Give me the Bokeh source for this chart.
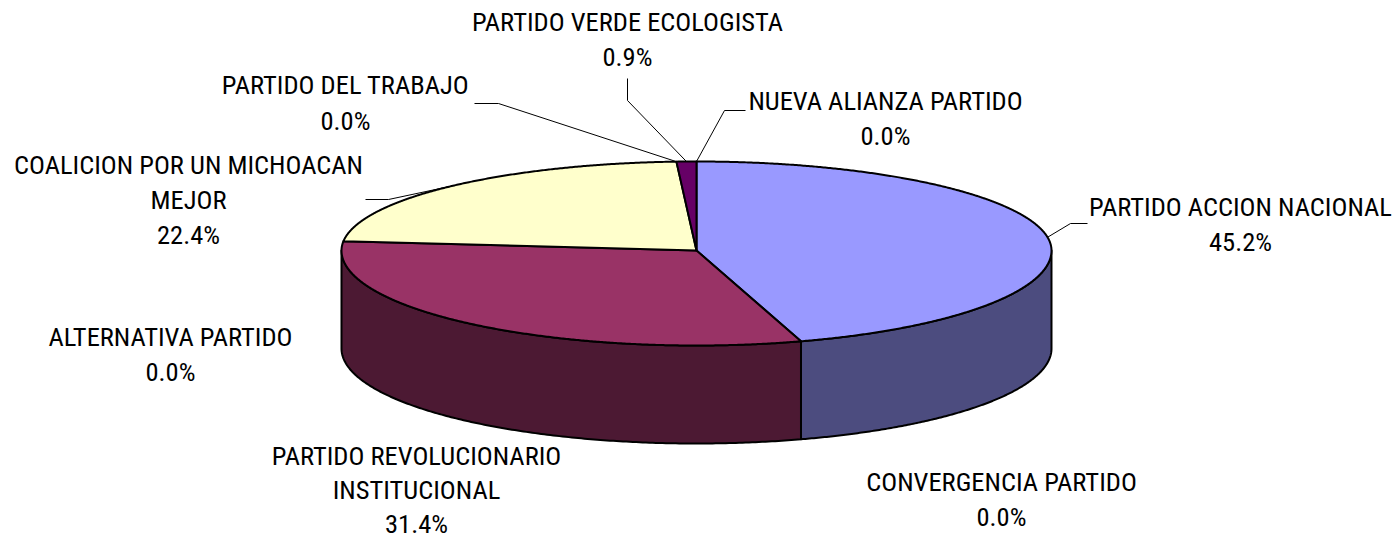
import numpy as np
from bokeh.plotting import figure
from bokeh.models import Range1d
from bokeh.core.properties import value
from bokeh.embed import file_html
from bokeh.resources import INLINE

# ---- data (clockwise from 12 o'clock) ----
parties = ["PARTIDO ACCION NACIONAL", "CONVERGENCIA PARTIDO", "PARTIDO REVOLUCIONARIO\nINSTITUCIONAL",
           "ALTERNATIVA PARTIDO", "COALICION POR UN MICHOACAN\nMEJOR", "PARTIDO DEL TRABAJO",
           "PARTIDO VERDE ECOLOGISTA", "NUEVA ALIANZA PARTIDO"]
shares = [45.2, 0.0, 31.4, 0.0, 22.4, 0.0, 0.9, 0.0]
top_colors = ["#9999FF", "#333399", "#993366", "#CCFFFF", "#FFFFCC", "#CCFFFF", "#660066", "#FF8080"]
side_colors = ["#4C4C7F", "#1A1A4D", "#4C1933", "#668080", "#7F7F66", "#668080", "#330033", "#804040"]

# ---- layout (screen-like coordinates) ----
W, H = 1397, 538
CX, CY = 696, 250
RX, RY_BACK, RY_FRONT = 355, 89, 95
DEPTH = 98
FONT = value("Roboto Condensed")
FS = "26.5px"

# label anchor: (center x, first line y, line spacing), leader: list of elbow points (or None)
label_pos = [(1240, 206, 35), (1001, 481, 35), (416, 455, 34), (170, 336, 35), (188, 164, 35),
             (345, 84, 36), (627, 21, 35), (885, 100, 35)]
leaders = [[(1087, 223), (1070, 223)], None, None, None, [(365, 199), (388, 199)],
           [(474, 103), (498, 103)], [(627, 78), (627, 100)], [(745, 110), (724, 110)]]

p = figure(width=W, height=H, output_backend="svg", toolbar_location=None,
           x_range=Range1d(0, W), y_range=Range1d(H, 0), min_border=0)
p.axis.visible = False
p.grid.visible = False
p.outline_line_color = None
p.background_fill_color = "white"
p.border_fill_color = "white"


def ry(t):
    return np.where(np.cos(t) < 0, RY_FRONT, RY_BACK)


def pt(t, dz=0.0):
    t = np.asarray(t, dtype=float)
    return CX + RX * np.sin(t), CY - ry(t) * np.cos(t) + dz


total = sum(shares)
bounds = np.concatenate([[0.0], np.cumsum(shares) / total * 2 * np.pi])

# --- side faces (front half only: 90..270 deg) ---
lo, hi = np.pi / 2, 3 * np.pi / 2
for i, s in enumerate(shares):
    a, b = max(bounds[i], lo), min(bounds[i + 1], hi)
    if b <= a:
        continue
    t = np.linspace(a, b, 200)
    xt, yt = pt(t)
    xb, yb = pt(t[::-1], DEPTH)
    p.patch(np.concatenate([xt, xb]), np.concatenate([yt, yb]), fill_color=side_colors[i],
            line_color="black", line_width=2, line_join="round")

# --- top slices ---
for i, s in enumerate(shares):
    a, b = bounds[i], bounds[i + 1]
    if b - a <= 0:
        continue
    t = np.linspace(a, b, max(int((b - a) * 200), 3))
    xt, yt = pt(t)
    p.patch(np.concatenate([[CX], xt]), np.concatenate([[CY], yt]), fill_color=top_colors[i],
            line_color="black", line_width=2, line_join="round")

# --- leader lines ---
for i, s in enumerate(shares):
    if leaders[i] is None:
        continue
    mid = (bounds[i] + bounds[i + 1]) / 2
    ex, ey = pt(mid)
    xs = [q[0] for q in leaders[i]] + [float(ex)]
    ys = [q[1] for q in leaders[i]] + [float(ey)]
    p.line(xs, ys, line_color="black", line_width=1)

# --- labels ---
for i, s in enumerate(shares):
    lines = parties[i].split("\n") + [f"{s:.1f}%"]
    lx, ly, lh = label_pos[i]
    p.text(x=[lx] * len(lines), y=[ly + k * lh for k in range(len(lines))], text=lines,
           text_font=FONT, text_font_size=FS, text_color="black",
           text_align="center", text_baseline="middle")

open("out.html", "w").write(file_html(p, INLINE))
